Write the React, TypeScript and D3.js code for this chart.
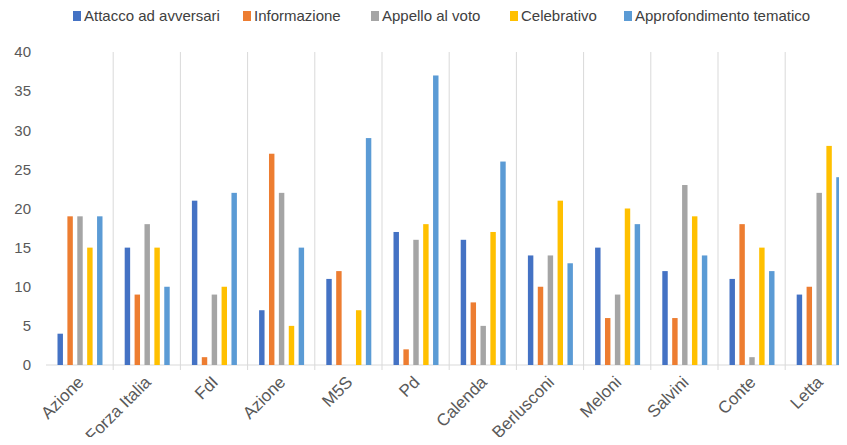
import React from "react";
import * as d3 from "d3";

const categories = ["Azione", "Forza Italia", "FdI", "Azione", "M5S", "Pd", "Calenda", "Berlusconi", "Meloni", "Salvini", "Conte", "Letta"];
const seriesNames = ["Attacco ad avversari", "Informazione", "Appello al voto", "Celebrativo", "Approfondimento tematico"];
const attacco = [4, 15, 21, 7, 11, 17, 16, 14, 15, 12, 11, 9];
const informazione = [19, 9, 1, 27, 12, 2, 8, 10, 6, 6, 18, 10];
const appello = [19, 18, 9, 22, 0, 16, 5, 14, 9, 23, 1, 22];
const celebrativo = [15, 15, 10, 5, 7, 18, 17, 21, 20, 19, 15, 28];
const approfondimento = [19, 10, 22, 15, 29, 37, 26, 13, 18, 14, 12, 24];
const yTicks = [0, 5, 10, 15, 20, 25, 30, 35, 40];
const colors = ["#4472C4", "#ED7D31", "#A5A5A5", "#FFC000", "#5B9BD5"];

const W = 847;
const H = 445;
const left = 46;
const band = 67.2;
const top = 52;
const bottom = 365;

export default function App() {
  const series = [attacco, informazione, appello, celebrativo, approfondimento];
  const x = d3.scaleBand<number>().domain(d3.range(categories.length)).range([left, left + band * categories.length]);
  const y = d3.scaleLinear().domain([0, 40]).range([bottom, top]);
  const inner = d3.scaleBand<number>().domain(d3.range(series.length)).range([11.5, 56.5]).paddingInner(0.45);
  const legendX = [73, 243, 371, 510, 624];
  return (
    <div style={{ margin: -8 }}>
      <svg width={W} height={H} style={{ display: "block", background: "#fff" }} fontFamily="'Liberation Sans', Arial, sans-serif">
        {categories.map((_, i) => (i > 0 ? (
          <line key={"v" + i} x1={x(i)!} x2={x(i)!} y1={top} y2={bottom + 5} stroke="#d9d9d9" strokeWidth={1} />
        ) : null))}
        <line x1={left} x2={W} y1={bottom} y2={bottom} stroke="#d9d9d9" strokeWidth={1} />
        {series.map((vals, s) =>
          vals.map((v, i) => (
            <rect key={s + "-" + i} x={x(i)! + inner(s)!} y={y(v)} width={inner.bandwidth()} height={bottom - y(v)} fill={colors[s]} />
          ))
        )}
        {yTicks.map((t) => (
          <text key={"y" + t} x={31} y={y(t)} dy="0.35em" textAnchor="end" fontSize={15} fill="#595959">{t}</text>
        ))}
        {categories.map((c, i) => (
          <text key={"c" + i} transform={`translate(${x(i)! + band / 2 + 1},${bottom + 14}) rotate(-45)`} textAnchor="end" dy="0.35em" fontSize={17} fill="#595959">{c}</text>
        ))}
        {seriesNames.map((n, s) => (
          <g key={"l" + s} transform={`translate(${legendX[s]},16)`}>
            <rect x={0} y={-5} width={8} height={10} fill={colors[s]} />
            <text x={11} y={0} dy="0.35em" fontSize={15} fill="#404040">{n}</text>
          </g>
        ))}
      </svg>
    </div>
  );
}
